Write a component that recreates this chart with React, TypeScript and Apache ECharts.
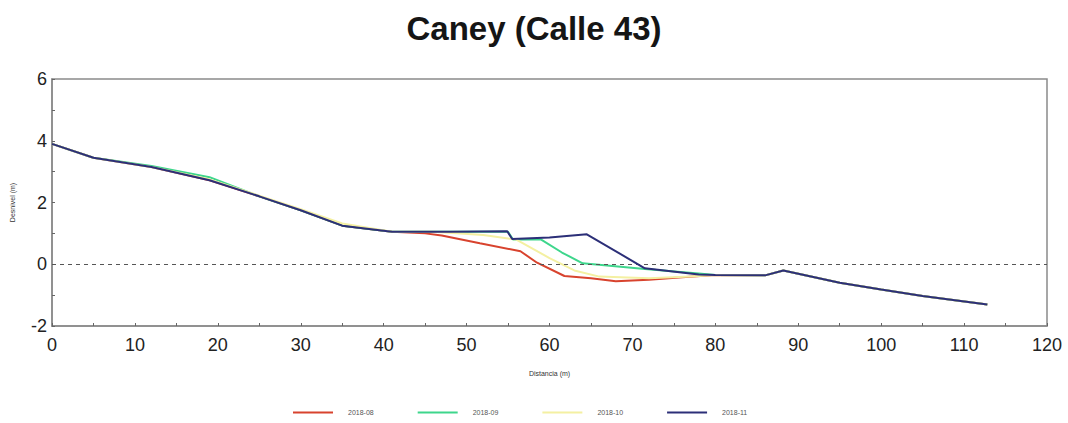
import React, { useEffect, useRef } from "react";
import * as echarts from "echarts";

const title = "Caney (Calle 43)";
const seriesNames = ["2018-08", "2018-09", "2018-10", "2018-11"];
const seriesColors = ["#d8432e", "#3ed68c", "#f4f0a2", "#2c2f78"];

const common: number[][] = [
  [0, 3.9], [5, 3.45], [12, 3.15], [19, 2.72], [25, 2.2], [30, 1.75], [35, 1.25], [41, 1.05],
];
const tail: number[][] = [
  [80, -0.35], [86, -0.36], [88.2, -0.2], [95, -0.6], [100, -0.82], [105, -1.03], [112.8, -1.3],
];

const s0808: number[][] = [
  ...common,
  [45, 1.0], [47, 0.93], [51.6, 0.68], [56.5, 0.42], [58.5, 0.05], [61.8, -0.38], [65, -0.45],
  [68, -0.55], [72, -0.5], [76, -0.42],
  ...tail,
];
const s0809: number[][] = [
  [0, 3.9], [5, 3.45], [12, 3.18], [19, 2.82], [25, 2.2], [30, 1.75], [35, 1.25], [41, 1.05],
  [48, 1.05], [55, 1.05], [55.6, 0.8], [59, 0.8], [61.5, 0.38], [64, 0.03], [71.5, -0.15],
  [78, -0.3],
  ...tail,
];
const s0810: number[][] = [
  [0, 3.9], [5, 3.45], [12, 3.15], [19, 2.75], [25, 2.22], [30, 1.78], [35, 1.32], [41, 1.05],
  [46, 1.05], [52, 0.95], [56, 0.8], [60, 0.2], [63, -0.2], [66, -0.4], [72, -0.45],
  [77, -0.4],
  ...tail,
];
const s0811: number[][] = [
  ...common,
  [48, 1.05], [54.9, 1.07], [55.5, 0.82], [60, 0.87], [64.5, 0.97], [71.5, -0.13], [78, -0.33],
  ...tail,
];
const seriesData = [s0808, s0809, s0810, s0811];

const xTicks = [0, 10, 20, 30, 40, 50, 60, 70, 80, 90, 100, 110, 120];
const yTicks = [-2, 0, 2, 4, 6];

export default function App() {
  const ref = useRef<HTMLDivElement>(null);
  useEffect(() => {
    document.body.style.margin = "0";
    if (!ref.current) return;
    const chart = echarts.init(ref.current, undefined, { renderer: "svg" });
    const font = "Arial, 'Liberation Sans', sans-serif";
    chart.setOption({
      animation: false,
      backgroundColor: "#ffffff",
      title: {
        text: title,
        left: "center",
        top: 7,
        textStyle: { fontFamily: font, fontSize: 33, fontWeight: "bold", color: "#151515" },
      },
      legend: {
        left: 288,
        top: 404,
        itemWidth: 40,
        itemHeight: 2,
        itemGap: 44,
        icon: "rect",
        data: seriesNames,
        textStyle: { fontFamily: font, fontSize: 7, color: "#555", padding: [0, 0, 0, 10] },
      },
      grid: {
        left: 52,
        right: 21,
        top: 79,
        bottom: 97,
        show: true,
        borderColor: "#8a8a8a",
        borderWidth: 1.5,
        backgroundColor: "transparent",
      },
      xAxis: {
        type: "value",
        min: xTicks[0],
        max: xTicks[xTicks.length - 1],
        interval: 10,
        name: "Distancia (m)",
        nameLocation: "middle",
        nameGap: 44,
        nameTextStyle: { fontFamily: font, fontSize: 7, color: "#333" },
        axisLine: { show: true, onZero: false, lineStyle: { color: "#8a8a8a", width: 1.5 } },
        axisTick: { show: true, inside: true, length: 3, lineStyle: { color: "#666" } },
        minorTick: { show: true, splitNumber: 2, length: 3, lineStyle: { color: "#666" } },
        splitLine: { show: false },
        axisLabel: { fontFamily: font, fontSize: 18, color: "#222", margin: 10 },
      },
      yAxis: {
        type: "value",
        min: yTicks[0],
        max: yTicks[yTicks.length - 1],
        interval: 2,
        name: "Desnivel (m)",
        nameLocation: "middle",
        nameGap: 36,
        nameTextStyle: { fontFamily: font, fontSize: 7, color: "#333" },
        axisLine: { show: true, onZero: false, lineStyle: { color: "#8a8a8a", width: 1.5 } },
        axisTick: { show: true, inside: true, length: 3, lineStyle: { color: "#666" } },
        minorTick: { show: true, splitNumber: 2, length: 3, lineStyle: { color: "#666" } },
        splitLine: { show: false },
        axisLabel: { fontFamily: font, fontSize: 18, color: "#222", margin: 5 },
      },
      series: seriesNames.map((name, i) => ({
        name,
        type: "line",
        data: seriesData[i],
        showSymbol: false,
        symbol: "none",
        color: seriesColors[i],
        lineStyle: { color: seriesColors[i], width: 2 },
        z: 2 + i,
        markLine:
          i === 0
            ? {
                silent: true,
                symbol: "none",
                label: { show: false },
                lineStyle: { color: "#555", type: [4, 4], width: 1 },
                data: [{ yAxis: 0 }],
              }
            : undefined,
      })),
    });
    return () => chart.dispose();
  }, []);
  return <div ref={ref} style={{ width: 1068, height: 423 }} />;
}
